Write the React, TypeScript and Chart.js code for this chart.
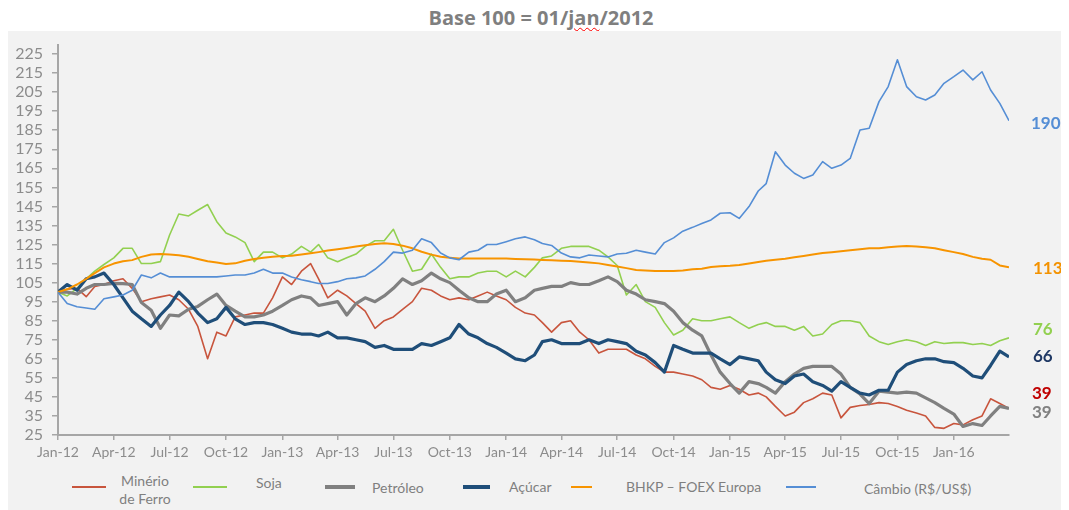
import React, { useEffect, useRef } from "react";
import { Chart, registerables } from "chart.js";

Chart.register(...registerables);

// ---------- data ----------
const dates: string[] = [
  "2012-01-01", "2012-01-16", "2012-02-01", "2012-02-16", "2012-03-01", "2012-03-16",
  "2012-04-01", "2012-04-16", "2012-05-01", "2012-05-16", "2012-06-01", "2012-06-16",
  "2012-07-01", "2012-07-16", "2012-08-01", "2012-08-16", "2012-09-01", "2012-09-16",
  "2012-10-01", "2012-10-16", "2012-11-01", "2012-11-16", "2012-12-01", "2012-12-16",
  "2013-01-01", "2013-01-16", "2013-02-01", "2013-02-16", "2013-03-01", "2013-03-16",
  "2013-04-01", "2013-04-16", "2013-05-01", "2013-05-16", "2013-06-01", "2013-06-16",
  "2013-07-01", "2013-07-16", "2013-08-01", "2013-08-16", "2013-09-01", "2013-09-16",
  "2013-10-01", "2013-10-16", "2013-11-01", "2013-11-16", "2013-12-01", "2013-12-16",
  "2014-01-01", "2014-01-16", "2014-02-01", "2014-02-16", "2014-03-01", "2014-03-16",
  "2014-04-01", "2014-04-16", "2014-05-01", "2014-05-16", "2014-06-01", "2014-06-16",
  "2014-07-01", "2014-07-16", "2014-08-01", "2014-08-16", "2014-09-01", "2014-09-16",
  "2014-10-01", "2014-10-16", "2014-11-01", "2014-11-16", "2014-12-01", "2014-12-16",
  "2015-01-01", "2015-01-16", "2015-02-01", "2015-02-16", "2015-03-01", "2015-03-16",
  "2015-04-01", "2015-04-16", "2015-05-01", "2015-05-16", "2015-06-01", "2015-06-16",
  "2015-07-01", "2015-07-16", "2015-08-01", "2015-08-16", "2015-09-01", "2015-09-16",
  "2015-10-01", "2015-10-16", "2015-11-01", "2015-11-16", "2015-12-01", "2015-12-16",
  "2016-01-01", "2016-01-16", "2016-02-01", "2016-02-16", "2016-03-01", "2016-03-16",
  "2016-03-31",
];

const minerio: number[] = [
  100, 101.5, 102, 97.6, 103, 104, 106, 107, 102, 95, 96.5, 97.5, 98.5, 96, 91, 82, 65, 79, 77, 87,
  88, 89, 89, 97, 108, 104, 111, 115, 107, 97, 101, 98, 94, 90, 81, 85,
  87, 91, 95, 102, 101, 98, 96, 97, 96, 98, 100, 98, 96, 92, 89, 88, 84, 79, 84, 85,
  79, 75, 68, 70, 70, 70, 67, 65, 61, 58, 58, 57, 56, 54,
  50, 49, 51, 49, 46, 47, 45, 40, 35, 37, 42, 44, 47, 46, 34, 39.5, 40.5, 41, 42, 41.5,
  40, 38, 36.5, 35, 29, 28.5, 31, 30.3, 33, 35, 44, 41.5, 39,
];

const soja: number[] = [
  100, 98, 102, 107, 111, 114.5, 118, 123, 123, 115, 115, 116, 130, 141, 140, 143, 146, 137, 131, 129,
  126, 116, 121, 121, 118, 120, 124, 121, 125, 118, 116, 118, 120, 124, 127, 127,
  133, 122, 111, 112, 120, 113, 107, 108, 108, 110, 111, 111, 108, 111, 108, 113, 118, 119, 123, 124,
  124, 124, 122, 118.5, 114, 98.5, 104, 95, 92, 84, 77.5, 80, 86, 85,
  85, 86, 87, 84, 81, 83, 84, 82, 82, 80, 82, 77, 78, 83, 85, 85, 84, 77, 74, 72.5,
  74, 75, 74, 72, 74, 73, 73.5, 73.5, 72.5, 73, 72, 74.5, 76,
];

const petroleo: number[] = [
  100, 100, 99, 102, 104, 104, 104.6, 104.5, 104, 94.5, 90.5, 81, 88, 87.5, 91, 92.5, 96, 99, 93, 90,
  87, 87, 88, 90, 93, 96, 98, 97, 93, 94, 95, 88, 94, 97, 95, 98,
  102, 107, 104, 106, 110, 107, 105, 101, 97, 95, 95, 99, 101, 95, 97, 101, 102, 103, 103, 105,
  104, 104, 106, 108, 105.5, 101, 99, 96, 95, 94, 90, 84, 80, 77,
  67, 58, 52, 47, 53, 52, 50, 47, 53, 57, 60, 61, 61, 61, 57, 50, 46.5, 41.5, 48, 47.5,
  47, 47.5, 47, 44.5, 42, 39, 36, 29.5, 31, 30, 35, 40, 39,
];

const acucar: number[] = [
  100, 104, 101, 107, 108, 110, 104, 97, 90, 86, 82, 88, 93, 100, 95, 89, 84, 86, 92, 86,
  83, 84, 84, 83, 81, 79, 78, 78, 77, 79, 76, 76, 75, 74, 71, 72,
  70, 70, 70, 73, 72, 74, 76, 83, 78, 76, 73, 71, 68, 65, 64, 67, 74, 75, 73, 73,
  73, 75, 73, 75, 74, 73, 69, 67, 63, 58, 72, 70, 68, 68,
  68, 65, 62, 66, 65, 64, 58, 54, 52, 56, 57, 53, 51, 48, 53, 50, 47, 46, 48.5, 48.5,
  58, 62, 64, 65, 65, 63.5, 63, 60, 56, 55, 61.5, 69, 66,
];

const bhkp: number[] = [
  100, 101.5, 104, 107, 110, 113, 115, 116.2, 116.8, 118.5, 119.8, 120, 119.8, 119.4, 118.6, 117.4, 116.2, 115.6, 114.8, 115.1,
  116.5, 117.4, 118.1, 118.6, 119, 119.1, 119.8, 120.4, 121, 121.8, 122.5, 123.2, 123.9, 124.6, 125.3, 125.6,
  125.3, 124.4, 123, 121.2, 119.7, 118.6, 118.1, 117.7, 117.7, 117.7, 117.7, 117.6, 117.6, 117.4, 117.2, 117.1, 116.9, 116.7, 116.5, 116.3,
  116, 115.6, 115.1, 114.2, 113.4, 112.6, 111.6, 111.4, 111.1, 111.1, 111.1, 111.4, 112, 112.3,
  113.2, 113.6, 113.8, 114.2, 115, 115.8, 116.5, 117, 117.5, 118.3, 119, 119.8, 120.5, 121, 121.5, 122, 122.5, 123, 123, 123.5,
  124, 124.2, 124, 123.5, 123, 122, 121, 120, 118.5, 117.5, 117, 114, 113,
];

const cambio: number[] = [
  100, 94, 92.3, 91.7, 91, 96.5, 97.5, 98.5, 101, 109, 107.5, 110, 108, 108, 108, 108, 108, 108, 108.5, 109,
  109, 110, 112, 110, 110, 108, 106.5, 105.5, 104.5, 104.5, 105.5, 107, 107.5, 108.5, 112, 116,
  121, 120.5, 122, 128, 126, 120.5, 118, 117, 121, 122, 125, 125, 126.5, 128, 129, 127.5, 125.5, 124.5, 120.5, 118.5,
  118, 119.5, 119, 118.5, 120, 120.4, 122, 121, 120, 126, 128.5, 132, 134, 136,
  137.9, 141.4, 141.7, 138.7, 144.9, 153.1, 157, 173.7, 166.7, 162.4, 159.7, 161.5, 168.5, 165, 166.7, 170.2, 185.1, 186, 200, 207.9,
  222, 207.9, 202.6, 200.9, 203.5, 209.6, 213.1, 216.6, 211.4, 215.7, 206.1, 199.1, 190,
];

const yTicks: number[] = [25, 35, 45, 55, 65, 75, 85, 95, 105, 115, 125, 135, 145, 155, 165, 175, 185, 195, 205, 215, 225];

const xTickDates: string[] = [
  "2012-01-01", "2012-04-01", "2012-07-01", "2012-10-01",
  "2013-01-01", "2013-04-01", "2013-07-01", "2013-10-01",
  "2014-01-01", "2014-04-01", "2014-07-01", "2014-10-01",
  "2015-01-01", "2015-04-01", "2015-07-01", "2015-10-01",
  "2016-01-01",
];
const xTickLabels: string[] = [
  "Jan-12", "Apr-12", "Jul-12", "Oct-12",
  "Jan-13", "Apr-13", "Jul-13", "Oct-13",
  "Jan-14", "Apr-14", "Jul-14", "Oct-14",
  "Jan-15", "Apr-15", "Jul-15", "Oct-15",
  "Jan-16",
];

const seriesNames: string[] = ["Minério de Ferro", "Soja", "Petróleo", "Açúcar", "BHKP – FOEX Europa", "Câmbio (R$/US$)"];
const endLabels: string[] = ["39", "76", "39", "66", "113", "190"];

// ---------- styles ----------
const colors = ["#C8553D", "#92D050", "#808080", "#1F4E79", "#F79400", "#558ED5"];
const widths = [1.6, 1.6, 3.2, 3.2, 2, 1.6];
const labelColors = ["#C00000", "#92D050", "#808080", "#1F3864", "#F39200", "#558ED5"];

const DAY = 86400000;
const BASE = Date.UTC(2012, 0, 1);
const toDay = (s: string): number => {
  const [y, m, d] = s.split("-").map(Number);
  return (Date.UTC(y, m - 1, d) - BASE) / DAY;
};

const FONT = "Lato, 'Open Sans', sans-serif";

export default function App() {
  const ref = useRef<HTMLCanvasElement | null>(null);

  useEffect(() => {
    if (!ref.current) return;
    const allSeries = [minerio, soja, petroleo, acucar, bhkp, cambio];
    const xs = dates.map(toDay);
    const chart = new Chart(ref.current, {
      type: "line",
      data: {
        datasets: allSeries.map((s, i) => ({
          label: seriesNames[i],
          data: s.map((v, j) => ({ x: xs[j], y: v })),
          borderColor: colors[i],
          backgroundColor: colors[i],
          borderWidth: widths[i],
          pointRadius: 0,
          tension: 0,
          fill: false,
          order: 6 - i,
          borderJoinStyle: "round" as const,
        })),
      },
      options: {
        animation: false,
        responsive: false,
        maintainAspectRatio: false,
        layout: { padding: { left: 0, right: 60, top: 13.5, bottom: 0 } },
        plugins: {
          legend: { display: false },
          title: { display: false },
          tooltip: { enabled: false },
        },
        scales: {
          x: {
            type: "linear",
            min: 0,
            max: toDay(dates[dates.length - 1]),
            afterBuildTicks: (s: any) => {
              s.ticks = xTickDates.map((d) => ({ value: toDay(d) }));
            },
            afterFit: (s: any) => {
              s.height = 36;
              s.paddingLeft = 0;
              s.paddingRight = 0;
            },
            ticks: {
              autoSkip: false,
              maxRotation: 0,
              minRotation: 0,
              padding: 4,
              color: "#8C8C8C",
              font: { family: FONT, size: 14 },
              callback: (_v: any, i: number) => xTickLabels[i],
            },
            grid: { drawOnChartArea: false, drawTicks: true, tickLength: 5, color: "#A6A6A6", lineWidth: 1.5 },
            border: { display: true, color: "#A6A6A6", width: 2 },
          },
          y: {
            type: "linear",
            min: 25,
            max: 230,
            afterBuildTicks: (s: any) => {
              s.ticks = yTicks.map((v) => ({ value: v }));
            },
            afterFit: (s: any) => {
              s.width = 50;
              s.paddingTop = 0;
              s.paddingBottom = 0;
            },
            ticks: {
              autoSkip: false,
              padding: 9,
              color: "#8C8C8C",
              font: { family: FONT, size: 16 },
              callback: (v: any) => String(v),
            },
            grid: { drawOnChartArea: false, drawTicks: true, tickLength: 6, color: "#A6A6A6", lineWidth: 1.5 },
            border: { display: true, color: "#A6A6A6", width: 2 },
          },
        },
      } as any,
    });
    return () => chart.destroy();
  }, []);

  const legendText: React.CSSProperties = {
    position: "absolute",
    fontFamily: FONT,
    fontSize: 14,
    lineHeight: "16px",
    color: "#7F7F7F",
    whiteSpace: "nowrap",
  };
  const swatch = (left: number, top: number, w: number, h: number, c: string): React.CSSProperties => ({
    position: "absolute",
    left,
    top,
    width: w,
    height: h,
    background: c,
  });
  const endLabel = (left: number, top: number, c: string): React.CSSProperties => ({
    position: "absolute",
    left,
    top,
    fontFamily: FONT,
    fontWeight: 700,
    fontSize: 17,
    lineHeight: "20px",
    color: c,
  });

  return (
    <div style={{ position: "relative", width: 1061, height: 502 }}>
      <div
        style={{
          position: "absolute",
          left: 0,
          top: -4,
          width: 1066,
          textAlign: "center",
          fontFamily: "'Open Sans', sans-serif",
          fontWeight: 700,
          fontSize: 20,
          color: "#7F7F7F",
          whiteSpace: "nowrap",
        }}
      >
        Base 100 = 01/
        <span style={{ textDecoration: "underline wavy #FF0000", textDecorationThickness: "1px", textUnderlineOffset: "2px" }}>
          jan
        </span>
        /2012
      </div>
      <div style={{ position: "absolute", left: 0, top: 23, width: 1061, height: 479, background: "#F2F2F2" }} />
      <canvas ref={ref} width={1061} height={440} style={{ position: "absolute", left: 0, top: 23, width: 1061, height: 440 }} />

      {/* right-hand end values */}
      <div style={endLabel(1023, 105, labelColors[5])}>{endLabels[5]}</div>
      <div style={endLabel(1025, 250, labelColors[4])}>{endLabels[4]}</div>
      <div style={endLabel(1025, 311, labelColors[1])}>{endLabels[1]}</div>
      <div style={endLabel(1025, 338, labelColors[3])}>{endLabels[3]}</div>
      <div style={endLabel(1024, 375, labelColors[0])}>{endLabels[0]}</div>
      <div style={endLabel(1024, 394, labelColors[2])}>{endLabels[2]}</div>

      {/* legend */}
      <div style={swatch(64, 478, 34, 2, colors[0])} />
      <div style={{ ...legendText, left: 97, top: 464, width: 80, textAlign: "center", lineHeight: "18px" }}>
        Minério
        <br />
        de Ferro
      </div>
      <div style={swatch(185, 478, 34, 2, colors[1])} />
      <div style={{ ...legendText, left: 248, top: 467 }}>{seriesNames[1]}</div>
      <div style={swatch(317, 477, 30, 4, colors[2])} />
      <div style={{ ...legendText, left: 364, top: 472 }}>{seriesNames[2]}</div>
      <div style={swatch(455, 477, 27, 4, colors[3])} />
      <div style={{ ...legendText, left: 501, top: 471 }}>{seriesNames[3]}</div>
      <div style={swatch(563, 478, 21, 2, colors[4])} />
      <div style={{ ...legendText, left: 618, top: 471 }}>{seriesNames[4]}</div>
      <div style={swatch(778, 478, 30, 2, colors[5])} />
      <div style={{ ...legendText, left: 856, top: 473 }}>{seriesNames[5]}</div>
    </div>
  );
}
